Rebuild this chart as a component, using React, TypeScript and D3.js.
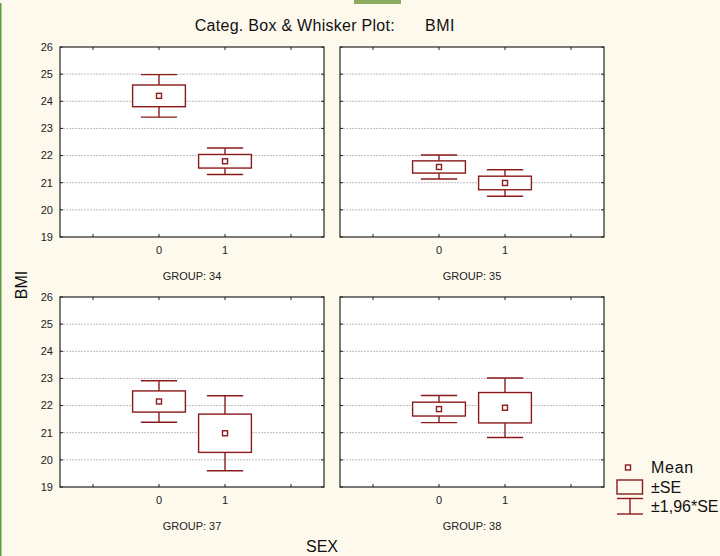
import React from "react";
import * as d3 from "d3";

const groups = ["34", "35", "37", "38"];
const sexes = [0, 1];
const means = [
  [24.2, 21.79],
  [21.58, 20.99],
  [22.15, 20.98],
  [21.87, 21.92],
];
const ses = [
  [0.4, 0.25],
  [0.225, 0.25],
  [0.39, 0.705],
  [0.255, 0.56],
];
const yTicks = [19, 20, 21, 22, 23, 24, 25, 26];
const xTicks = [-1, 0, 1, 2];
const xLabels = [0, 1];

const RED = "#8b1a1a";
const FONT = "'Liberation Sans', Arial, sans-serif";

const W = 720;
const H = 556;
const panelW = 264;
const panelH = 190;
const panelX = [60, 340];
const panelY = [47, 297];

function Panel({ gi, px, py, showY }: { gi: number; px: number; py: number; showY: boolean }) {
  const x = d3.scaleLinear().domain([-1.5, 2.5]).range([px, px + panelW]);
  const y = d3.scaleLinear().domain([19, 26]).range([py + panelH, py]);
  const boxHalf = (x(0.4) - x(0));
  const capHalf = (x(0.275) - x(0));
  return (
    <g>
      <rect x={px} y={py} width={panelW} height={panelH} fill="#ffffff" />
      {yTicks.slice(1, -1).map((t) => (
        <line key={"g" + t} x1={px} x2={px + panelW} y1={y(t)} y2={y(t)} stroke="#bdbdbd" strokeWidth={1} strokeDasharray="2,1" />
      ))}
      {yTicks.map((t) => (
        <g key={"yt" + t}>
          <line x1={px + panelW} x2={px + panelW - 3} y1={y(t)} y2={y(t)} stroke="#222" />
          <line x1={px} x2={px + 3} y1={y(t)} y2={y(t)} stroke="#222" />
          {showY && (
            <text x={px - 7} y={y(t) + 3.8} textAnchor="end" fontSize={11} fontFamily={FONT} fill="#222">
              {t}
            </text>
          )}
        </g>
      ))}
      {xTicks.map((t) => (
        <g key={"xt" + t}>
          <line x1={x(t)} x2={x(t)} y1={py} y2={py + 3} stroke="#222" />
          <line x1={x(t)} x2={x(t)} y1={py + panelH} y2={py + panelH - 3} stroke="#222" />
        </g>
      ))}
      {xLabels.map((t) => (
        <text key={"xl" + t} x={x(t)} y={py + panelH + 16.5} textAnchor="middle" fontSize={11} fontFamily={FONT} fill="#222">
          {t}
        </text>
      ))}
      <text x={px + panelW / 2} y={py + panelH + 43} textAnchor="middle" fontSize={11} fontFamily={FONT} fill="#222">
        {"GROUP: " + groups[gi]}
      </text>
      {sexes.map((s, si) => {
        const m = means[gi][si];
        const se = ses[gi][si];
        const cx = x(s);
        const wTop = y(m + 1.96 * se);
        const wBot = y(m - 1.96 * se);
        const bTop = y(m + se);
        const bBot = y(m - se);
        return (
          <g key={"b" + s} stroke={RED} strokeWidth={1.4} fill="none">
            <line x1={cx} x2={cx} y1={wTop} y2={bTop} />
            <line x1={cx} x2={cx} y1={bBot} y2={wBot} />
            <line x1={cx - capHalf} x2={cx + capHalf} y1={wTop} y2={wTop} />
            <line x1={cx - capHalf} x2={cx + capHalf} y1={wBot} y2={wBot} />
            <rect x={cx - boxHalf} y={bTop} width={boxHalf * 2} height={bBot - bTop} fill="#ffffff" />
            <rect x={cx - 2.5} y={y(m) - 2.5} width={5} height={5} fill="#ffffff" />
          </g>
        );
      })}
      <rect x={px} y={py} width={panelW} height={panelH} fill="none" stroke="#222" strokeWidth={1.2} />
    </g>
  );
}

export default function App() {
  return (
    <svg
      width={W}
      height={H}
      style={{ position: "absolute", left: 0, top: 0, display: "block" }}
    >
      <rect x={0} y={0} width={W} height={H} fill="#fef9ed" />
      <rect x={0} y={3} width={1.5} height={H - 3} fill="#5f9e43" />
      <rect x={354} y={0} width={47} height={4} fill="#8aab60" />
      <text x={395} y={30.5} textAnchor="end" fontSize={16} fontFamily={FONT} fill="#111" letterSpacing={0.28}>
        Categ. Box &amp; Whisker Plot:
      </text>
      <text x={425} y={30.5} textAnchor="start" fontSize={16} fontFamily={FONT} fill="#111" letterSpacing={0.5}>
        BMI
      </text>
      {groups.map((g, gi) => (
        <Panel key={g} gi={gi} px={panelX[gi % 2]} py={panelY[Math.floor(gi / 2)]} showY={gi % 2 === 0} />
      ))}
      <text transform="translate(26.5,285) rotate(-90)" textAnchor="middle" fontSize={16} fontFamily={FONT} fill="#111">
        BMI
      </text>
      <text x={322} y={552} textAnchor="middle" fontSize={16} fontFamily={FONT} fill="#111">
        SEX
      </text>
      <g stroke={RED} strokeWidth={1.4} fill="none">
        <rect x={625.5} y={465} width={5} height={5} fill="#ffffff" />
        <rect x={617} y={480} width={25.5} height={14} />
        <line x1={617} x2={643} y1={498.5} y2={498.5} />
        <line x1={630} x2={630} y1={498.5} y2={514} />
        <line x1={617} x2={643} y1={514} y2={514} />
      </g>
      <text x={651} y={473} fontSize={16} fontFamily={FONT} fill="#111" letterSpacing={0.7}>Mean</text>
      <text x={651} y={492.5} fontSize={16} fontFamily={FONT} fill="#111">±SE</text>
      <text x={651} y={512} fontSize={16} fontFamily={FONT} fill="#111">±1,96*SE</text>
    </svg>
  );
}
